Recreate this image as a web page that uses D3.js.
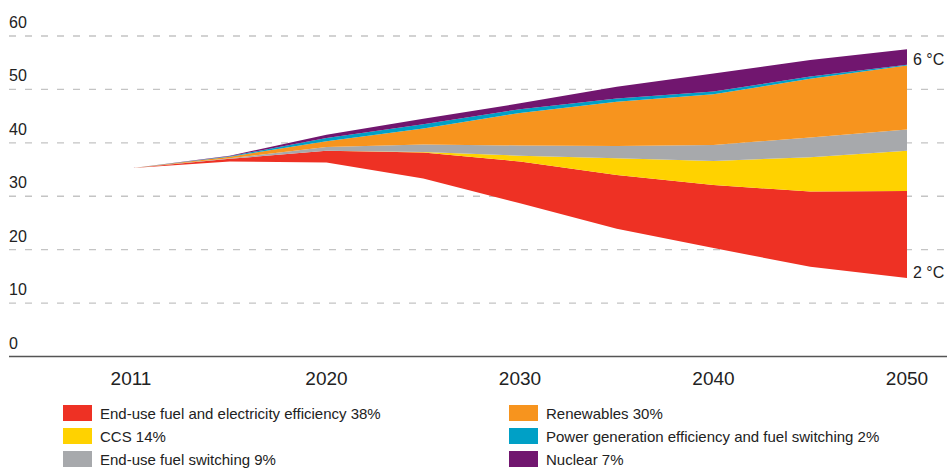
<!DOCTYPE html>
<html>
<head>
<meta charset="utf-8">
<script src="https://cdn.jsdelivr.net/npm/d3@7"></script>
<style>
  body { margin: 0; background: #fff; }
  text { font-family: "Liberation Sans", Arial, sans-serif; fill: #222; }
</style>
</head>
<body>
<main></main>
<script>
// periods along the x axis (evenly spaced), only decades get a label
const periods = ["2011", "2015", "2020", "2025", "2030", "2035", "2040", "2045", "2050"];
const tickYears = ["2011", "2020", "2030", "2040", "2050"];
const yTicks = [0, 10, 20, 30, 40, 50, 60];

// 2 degree pathway (invisible base) and the wedges stacked on top of it
const twoDegree   = [35.3, 36.5, 36.3, 33.3, 28.7, 23.9, 20.3, 16.8, 14.7];
const efficiency  = [0, 0.5, 2.2, 4.9, 7.8, 10.1, 11.8, 14.1, 16.3];
const ccs         = [0, 0, 0, 0.1, 1.1, 3.1, 4.5, 6.4, 7.5];
const fuelSwitch  = [0, 0.1, 0.7, 1.4, 1.9, 2.3, 3.0, 3.7, 4.0];
const renewables  = [0, 0.3, 1.1, 3.0, 6.1, 8.3, 9.5, 11.0, 12.0];
const powerGen    = [0, 0.1, 0.6, 0.8, 0.7, 0.6, 0.5, 0.4, 0.1];
const nuclear     = [0, 0.1, 0.6, 1.0, 1.1, 2.2, 3.4, 3.1, 2.9];

const seriesKeys = ["efficiency", "ccs", "fuelSwitch", "renewables", "powerGen", "nuclear"];
const seriesLabels = [
  "End-use fuel and electricity efficiency 38%",
  "CCS 14%",
  "End-use fuel switching 9%",
  "Renewables 30%",
  "Power generation efficiency and fuel switching 2%",
  "Nuclear 7%"
];
const seriesColors = ["#ee3124", "#ffd200", "#a7a9ac", "#f7941e", "#00a0c6", "#71166f"];

function draw_chart() {
  const width = 947;
  const height = 469;

  let svg = d3.select('main')
    .append('svg')
    .attr('width', width)
    .attr('height', height);

  const x = d3.scalePoint().domain(periods).range([133, 907]);
  const y = d3.scaleLinear().domain([0, 60]).range([356.5, 36]);

  // grid lines
  svg.append('g')
    .selectAll('line')
    .data(yTicks.filter(d => d > 0))
    .enter()
    .append('line')
    .attr('x1', 9)
    .attr('x2', width)
    .attr('y1', d => y(d))
    .attr('y2', d => y(d))
    .attr('stroke', '#c4c4c4')
    .attr('stroke-width', 1.3)
    .attr('stroke-dasharray', '7,9');

  svg.append('line')
    .attr('x1', 9)
    .attr('x2', width)
    .attr('y1', y(0))
    .attr('y2', y(0))
    .attr('stroke', '#555')
    .attr('stroke-width', 1.6);

  svg.append('g')
    .selectAll('text')
    .data(yTicks)
    .enter()
    .append('text')
    .attr('x', 9)
    .attr('y', d => y(d) - 8)
    .style('font-size', '16px')
    .text(d => d);

  svg.append('g')
    .selectAll('text')
    .data(tickYears)
    .enter()
    .append('text')
    .attr('x', d => x(d) - (d === "2011" ? 2 : 0))
    .attr('y', 385)
    .attr('text-anchor', 'middle')
    .style('font-size', '19px')
    .text(d => d);

  // stacked wedges
  const table = periods.map(function (p, i) {
    return {
      period: p,
      base: twoDegree[i],
      efficiency: efficiency[i],
      ccs: ccs[i],
      fuelSwitch: fuelSwitch[i],
      renewables: renewables[i],
      powerGen: powerGen[i],
      nuclear: nuclear[i]
    };
  });

  const stacked = d3.stack().keys(["base"].concat(seriesKeys))(table);

  const area = d3.area()
    .x(d => x(d.data.period))
    .y0(d => y(d[0]))
    .y1(d => y(d[1]));

  svg.append('g')
    .selectAll('path')
    .data(stacked.slice(1))
    .enter()
    .append('path')
    .attr('d', area)
    .attr('fill', (d, i) => seriesColors[i]);

  // end labels
  const last = stacked[stacked.length - 1][periods.length - 1];
  svg.append('text')
    .attr('x', 913)
    .attr('y', y(last[1]) + 16)
    .style('font-size', '16px')
    .text('6 °C');

  svg.append('text')
    .attr('x', 913)
    .attr('y', y(twoDegree[twoDegree.length - 1]))
    .style('font-size', '16px')
    .text('2 °C');

  // legend
  let legend = svg.append('g')
    .selectAll('g')
    .data(seriesLabels)
    .enter()
    .append('g')
    .attr('transform', function (d, i) {
      const col = Math.floor(i / 3);
      const row = i % 3;
      return 'translate(' + (63 + col * 446) + ', ' + (405 + row * 23) + ')';
    });

  legend.append('rect')
    .attr('width', 29)
    .attr('height', 16)
    .attr('fill', (d, i) => seriesColors[i]);

  legend.append('text')
    .attr('x', 37)
    .attr('y', 13.5)
    .style('font-size', '15px')
    .text(d => d);
}

draw_chart();
</script>
</body>
</html>
